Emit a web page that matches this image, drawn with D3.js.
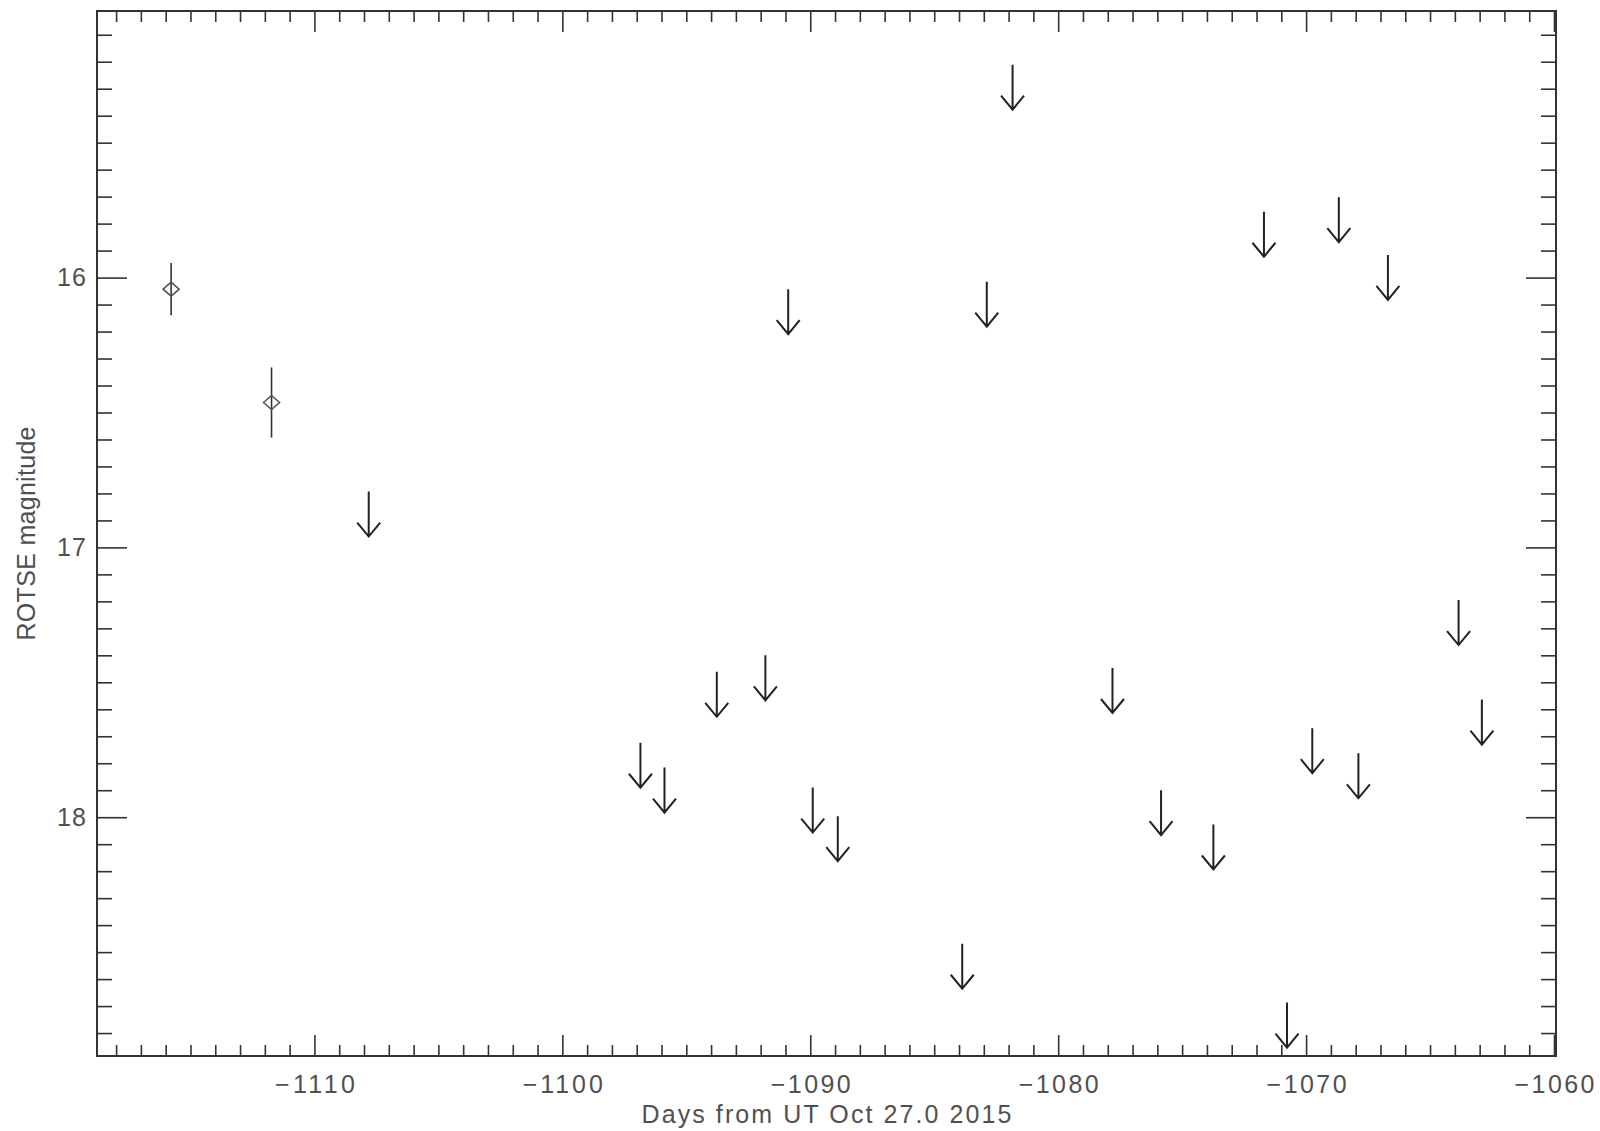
<!DOCTYPE html>
<html>
<head>
<meta charset="utf-8">
<script src="https://cdn.jsdelivr.net/npm/d3@7"></script>
<style>
  html, body { margin: 0; padding: 0; background: #fff; }
  svg { display: block; }
  text { font-family: "Liberation Sans", Arial, sans-serif; fill: #505050; }
</style>
</head>
<body>
<svg id="chart" width="1600" height="1131"></svg>
<script>
// ---- Data ----
// Detections (diamonds with error bars)
const detDays = [-1115.78, -1111.73];
const detMags = [16.043, 16.463];
const detErrs = [0.097, 0.130];

// Upper limits (down arrows); value = magnitude at arrow tail
const limDays = [-1107.81, -1096.85, -1095.88, -1093.77, -1091.81, -1090.89, -1089.90,
                 -1088.89, -1083.87, -1082.88, -1081.84, -1077.81, -1075.85, -1073.74,
                 -1071.70, -1070.77, -1069.75, -1068.68, -1067.89, -1066.70, -1063.85, -1062.91];
const limMags = [16.793, 17.724, 17.816, 17.461, 17.400, 16.043, 17.890,
                 17.996, 18.469, 16.015, 15.211, 17.447, 17.900, 18.027,
                 15.756, 18.687, 17.670, 15.702, 17.763, 15.916, 17.195, 17.564];

// Axis ranges and ticks
const xDomain = [-1118.77, -1059.92];
const yDomain = [15.012, 18.885];
const xMajorTicks = [-1110, -1100, -1090, -1080, -1070, -1060];
const xMinorTicks = d3.range(-1118, -1059, 1).filter(v => v % 10 !== 0);
const yMajorTicks = [16, 17, 18];
const yMinorTicks = d3.range(151, 189).map(v => v / 10).filter(v => Math.abs(v - Math.round(v)) > 1e-6);

const xLabel = "Days from UT Oct 27.0 2015";
const yLabel = "ROTSE magnitude";

// ---- Layout ----
const L = 97, R = 1556, T = 11, B = 1056;
const svg = d3.select("#chart");

const x = d3.scaleLinear().domain(xDomain).range([L, R]);
const y = d3.scaleLinear().domain(yDomain).range([T, B]);

const axisColor = "#333";
const textColor = "#505050";

function styleAxis(g, width) {
  g.select(".domain").remove();
  g.selectAll(".tick line").attr("stroke", axisColor).attr("stroke-width", width);
  g.selectAll(".tick text").attr("fill", textColor).style("font-size", "25px")
    .style("font-family", '"Liberation Sans", Arial, sans-serif');
}

// Bottom axis: minor + major (labelled)
svg.append("g").attr("transform", `translate(0,${B})`)
  .call(d3.axisBottom(x).tickValues(xMinorTicks).tickSize(-11).tickFormat(""))
  .call(g => styleAxis(g, 1.6));
svg.append("g").attr("transform", `translate(0,${B})`)
  .call(d3.axisBottom(x).tickValues(xMajorTicks).tickSize(-21).tickPadding(19).tickFormat(d3.format("d")))
  .call(g => styleAxis(g, 1.6))
  .call(g => g.selectAll(".tick text").attr("textLength", 80).attr("lengthAdjust", "spacing"));

// Top axis: no labels
svg.append("g").attr("transform", `translate(0,${T})`)
  .call(d3.axisTop(x).tickValues(xMinorTicks).tickSize(-11).tickFormat(""))
  .call(g => styleAxis(g, 1.6));
svg.append("g").attr("transform", `translate(0,${T})`)
  .call(d3.axisTop(x).tickValues(xMajorTicks).tickSize(-21).tickFormat(""))
  .call(g => styleAxis(g, 1.6));

// Left axis: minor + major (labelled)
svg.append("g").attr("transform", `translate(${L},0)`)
  .call(d3.axisLeft(y).tickValues(yMinorTicks).tickSize(-15).tickFormat(""))
  .call(g => styleAxis(g, 1.6));
svg.append("g").attr("transform", `translate(${L},0)`)
  .call(d3.axisLeft(y).tickValues(yMajorTicks).tickSize(-30).tickPadding(11).tickFormat(d3.format("d")))
  .call(g => styleAxis(g, 1.6))
  .call(g => g.selectAll(".tick text").attr("textLength", 29).attr("lengthAdjust", "spacing"));

// Right axis: no labels
svg.append("g").attr("transform", `translate(${R},0)`)
  .call(d3.axisRight(y).tickValues(yMinorTicks).tickSize(-15).tickFormat(""))
  .call(g => styleAxis(g, 1.6));
svg.append("g").attr("transform", `translate(${R},0)`)
  .call(d3.axisRight(y).tickValues(yMajorTicks).tickSize(-30).tickFormat(""))
  .call(g => styleAxis(g, 1.6));

// Frame
svg.append("rect")
  .attr("x", L).attr("y", T).attr("width", R - L).attr("height", B - T)
  .attr("fill", "none").attr("stroke", axisColor).attr("stroke-width", 2);

// Axis titles
svg.append("text")
  .attr("x", (L + R) / 2).attr("y", 1123)
  .attr("text-anchor", "middle")
  .attr("textLength", 370).attr("lengthAdjust", "spacing")
  .style("font-size", "25px")
  .text(xLabel);

svg.append("text")
  .attr("transform", `translate(35,${(T + B) / 2}) rotate(-90)`)
  .attr("text-anchor", "middle")
  .attr("textLength", 214).attr("lengthAdjust", "spacing")
  .style("font-size", "25px")
  .text(yLabel);

// Detections: error bars + diamonds
const det = detDays.map((d, i) => ({ d, m: detMags[i], e: detErrs[i] }));
svg.append("g").selectAll("line").data(det).join("line")
  .attr("x1", p => x(p.d)).attr("x2", p => x(p.d))
  .attr("y1", p => y(p.m - p.e)).attr("y2", p => y(p.m + p.e))
  .attr("stroke", "#333").attr("stroke-width", 1.6);
const dw = 8, dh = 7;
svg.append("g").selectAll("path").data(det).join("path")
  .attr("d", p => {
    const cx = x(p.d), cy = y(p.m);
    return `M${cx - dw},${cy} L${cx},${cy - dh} L${cx + dw},${cy} L${cx},${cy + dh} Z`;
  })
  .attr("fill", "none").attr("stroke", "#555").attr("stroke-width", 1.6);

// Upper limits: down arrows
const lims = limDays.map((d, i) => ({ d, m: limMags[i] }));
const aLen = 45, aHeadW = 11.5, aHeadH = 14;
svg.append("g").selectAll("path").data(lims).join("path")
  .attr("d", p => {
    const cx = x(p.d), cy = y(p.m), tip = cy + aLen;
    return `M${cx},${cy} V${tip} M${cx - aHeadW},${tip - aHeadH} L${cx},${tip} L${cx + aHeadW},${tip - aHeadH}`;
  })
  .attr("fill", "none").attr("stroke", "#222").attr("stroke-width", 2)
  .attr("stroke-linejoin", "miter");
</script>
</body>
</html>
